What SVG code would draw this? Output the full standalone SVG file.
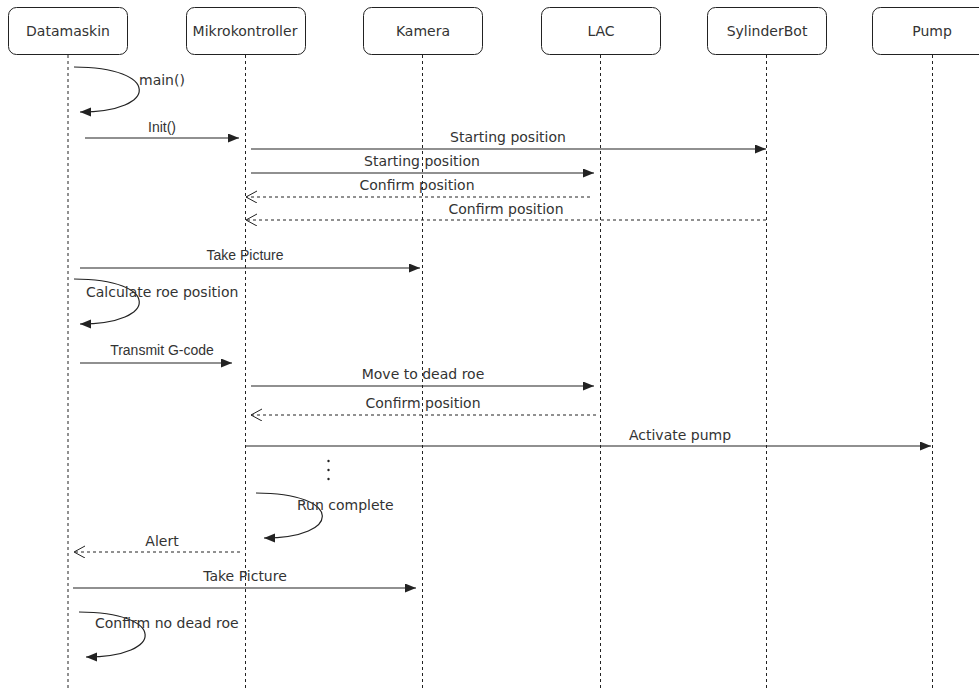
<svg xmlns="http://www.w3.org/2000/svg" width="979" height="689" viewBox="0 0 979 689">
<style>
.box{fill:#fff;stroke:#222;stroke-width:1}
.life{stroke:#222;stroke-width:1;stroke-dasharray:3 3;fill:none}
.msg{stroke:#222;stroke-width:1.2;fill:none}
.ret{stroke:#222;stroke-width:1;stroke-dasharray:3 3;fill:none}
.nt{font-family:"DejaVu Sans",Verdana,sans-serif;font-size:14px;fill:#333;text-anchor:middle}
.lb{font-family:"DejaVu Sans",Verdana,sans-serif;font-size:14px;fill:#333}
.la{font-family:"Liberation Sans",Arial,sans-serif;font-size:14px;fill:#333}
.m{text-anchor:middle}
</style>
<defs>
<marker id="blk" markerUnits="userSpaceOnUse" markerWidth="12" markerHeight="10" refX="11" refY="4.5" orient="auto">
<path d="M0,0 L11,4.5 L0,9 Z" fill="#222"/>
</marker>
<marker id="opn" markerUnits="userSpaceOnUse" markerWidth="12" markerHeight="14" refX="11" refY="6" orient="auto">
<path d="M0,0 L11,6 L0,12" fill="none" stroke="#222" stroke-width="1"/>
</marker>
</defs>
<rect width="979" height="689" fill="#fff"/>

<g id="datamaskin">
<line class="life" x1="68" y1="55" x2="68" y2="689"/>
<rect class="box" x="8.5" y="7.5" width="119" height="47" rx="8"/>
<text class="nt" x="68" y="36">Datamaskin</text>
</g>
<g id="mikrokontroller">
<line class="life" x1="245.5" y1="55" x2="245.5" y2="689"/>
<rect class="box" x="186.5" y="7.5" width="119" height="47" rx="8"/>
<text class="nt" x="245" y="36">Mikrokontroller</text>
</g>
<g id="kamera">
<line class="life" x1="422.5" y1="55" x2="422.5" y2="689"/>
<rect class="box" x="363.5" y="7.5" width="119" height="47" rx="8"/>
<text class="nt" x="423" y="36">Kamera</text>
</g>
<g id="lac">
<line class="life" x1="600.5" y1="55" x2="600.5" y2="689"/>
<rect class="box" x="541.5" y="7.5" width="119" height="47" rx="8"/>
<text class="nt" x="601" y="36">LAC</text>
</g>
<g id="sylinderbot">
<line class="life" x1="766.5" y1="55" x2="766.5" y2="689"/>
<rect class="box" x="707.5" y="7.5" width="119" height="47" rx="8"/>
<text class="nt" x="767" y="36">SylinderBot</text>
</g>
<g id="pump">
<line class="life" x1="932.5" y1="55" x2="932.5" y2="689"/>
<rect class="box" x="872.5" y="7.5" width="119" height="47" rx="8"/>
<text class="nt" x="932" y="36">Pump</text>
</g>

<g id="connectors">
<path class="msg" d="M74,67 C160,67 160,112 80,112" marker-end="url(#blk)"/>
<text class="lb" x="139" y="85">main()</text>

<line class="msg" x1="85" y1="138" x2="239" y2="138" marker-end="url(#blk)"/>
<text class="la m" x="162" y="132">Init()</text>

<line class="msg" x1="251" y1="149" x2="766" y2="149" marker-end="url(#blk)"/>
<text class="lb m" x="508" y="142">Starting position</text>

<line class="msg" x1="251" y1="173" x2="594" y2="173" marker-end="url(#blk)"/>
<text class="lb m" x="422" y="166">Starting position</text>

<line class="ret" x1="590" y1="197" x2="246" y2="197" marker-end="url(#opn)"/>
<text class="lb m" x="417" y="190">Confirm position</text>

<line class="ret" x1="766" y1="220" x2="246" y2="220" marker-end="url(#opn)"/>
<text class="lb m" x="506" y="214">Confirm position</text>

<line class="msg" x1="80" y1="268" x2="420" y2="268" marker-end="url(#blk)"/>
<text class="la m" x="245" y="260">Take Picture</text>

<path class="msg" d="M74,279 C160,279 160,324 80,324" marker-end="url(#blk)"/>
<text class="lb" x="86" y="297">Calculate roe position</text>

<line class="msg" x1="80" y1="363" x2="232" y2="363" marker-end="url(#blk)"/>
<text class="la m" x="162" y="355">Transmit G-code</text>

<line class="msg" x1="251" y1="386" x2="594" y2="386" marker-end="url(#blk)"/>
<text class="lb m" x="423" y="379">Move to dead roe</text>

<line class="ret" x1="596" y1="415" x2="251" y2="415" marker-end="url(#opn)"/>
<text class="lb m" x="423" y="408">Confirm position</text>

<line class="msg" x1="245" y1="446" x2="931" y2="446" marker-end="url(#blk)"/>
<text class="lb m" x="680" y="440">Activate pump</text>

<g fill="#222">
<circle cx="328.5" cy="461" r="1.2"/>
<circle cx="328.5" cy="470" r="1.2"/>
<circle cx="328.5" cy="479" r="1.2"/>
</g>

<path class="msg" d="M256,493 C343,493 343,538 264,538" marker-end="url(#blk)"/>
<text class="lb" x="297" y="510">Run complete</text>

<line class="ret" x1="240" y1="552" x2="74" y2="552" marker-end="url(#opn)"/>
<text class="lb m" x="162" y="546">Alert</text>

<line class="msg" x1="73" y1="588" x2="416" y2="588" marker-end="url(#blk)"/>
<text class="lb m" x="245" y="581">Take Picture</text>

<path class="msg" d="M79,612 C166,612 166,657 86,657" marker-end="url(#blk)"/>
<text class="lb" x="95" y="628">Confirm no dead roe</text>
</g>
</svg>
